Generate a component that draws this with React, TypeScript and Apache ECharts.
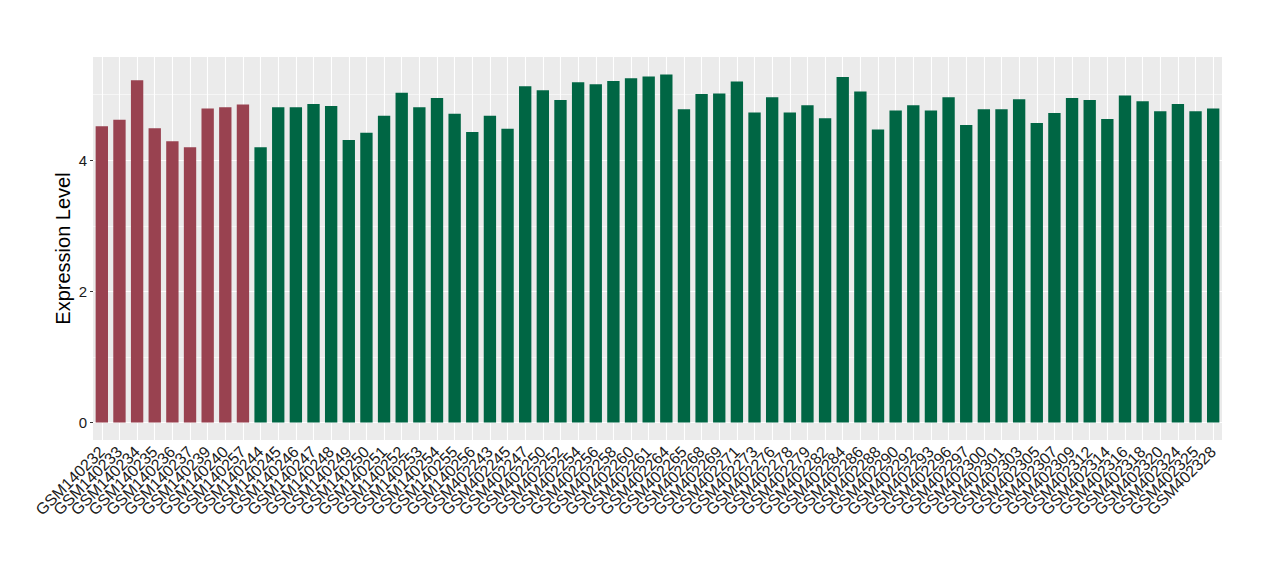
import React, { useEffect, useRef } from "react";
import * as echarts from "echarts";

const categories = [
  "GSM140232", "GSM140233", "GSM140234", "GSM140235", "GSM140236", "GSM140237", "GSM140239", "GSM140240", "GSM140257",
  "GSM140244", "GSM140245", "GSM140246", "GSM140247", "GSM140248", "GSM140249", "GSM140250", "GSM140251", "GSM140252",
  "GSM140253", "GSM140254", "GSM140255", "GSM140256",
  "GSM402243", "GSM402245", "GSM402247", "GSM402250", "GSM402252", "GSM402254", "GSM402256", "GSM402258", "GSM402260",
  "GSM402261", "GSM402264", "GSM402265", "GSM402268", "GSM402269", "GSM402271", "GSM402273", "GSM402276", "GSM402278",
  "GSM402279", "GSM402282", "GSM402284", "GSM402286", "GSM402288", "GSM402290", "GSM402292", "GSM402293", "GSM402296",
  "GSM402297", "GSM402300", "GSM402301", "GSM402303", "GSM402305", "GSM402307", "GSM402309", "GSM402312", "GSM402314",
  "GSM402316", "GSM402318", "GSM402320", "GSM402324", "GSM402325", "GSM402328",
];

const values = [
  4.52, 4.62, 5.22, 4.49, 4.29, 4.20, 4.79, 4.81, 4.85,
  4.20, 4.81, 4.81, 4.86, 4.83, 4.31, 4.42, 4.68, 5.03,
  4.81, 4.95, 4.71, 4.43,
  4.68, 4.48, 5.13, 5.07, 4.92, 5.19, 5.16, 5.21, 5.25,
  5.28, 5.31, 4.78, 5.01, 5.02, 5.20, 4.73, 4.96, 4.73,
  4.84, 4.64, 5.27, 5.05, 4.47, 4.76, 4.84, 4.76, 4.96,
  4.54, 4.78, 4.78, 4.93, 4.57, 4.72, 4.95, 4.92, 4.63,
  4.99, 4.90, 4.75, 4.86, 4.75, 4.79,
];

// first group (red) size, remainder green
const groupSizes = [9, 55];
const groupColors = ["#994250", "#006644"];

const yTicks = [0, 2, 4];
const yMajorGrid = [0, 2, 4];
const yMinorGrid = [1, 3, 5];

export default function App() {
  const ref = useRef<HTMLDivElement>(null);

  useEffect(() => {
    if (!ref.current) return;
    const chart = echarts.init(ref.current, null, { renderer: "svg" });
    const maxV = Math.max(...values);
    const pad = maxV * 0.05;
    const font = "'Liberation Sans', Arial, Helvetica, sans-serif";

    const gridLines: any[] = [];
    yMajorGrid.forEach((v) =>
      gridLines.push({ yAxis: v, lineStyle: { color: "#ffffff", width: 1.1, type: "solid" } })
    );
    yMinorGrid.forEach((v) =>
      gridLines.push({ yAxis: v, lineStyle: { color: "#ffffff", width: 0.55, type: "solid" } })
    );
    categories.forEach((c) =>
      gridLines.push({ xAxis: c, lineStyle: { color: "#ffffff", width: 1.1, type: "solid" } })
    );

    chart.setOption({
      animation: false,
      grid: {
        left: 93,
        right: 58,
        top: 57,
        bottom: 140,
        show: true,
        backgroundColor: "#EBEBEB",
        borderWidth: 0,
        containLabel: false,
      },
      xAxis: {
        type: "category",
        data: categories,
        boundaryGap: true,
        axisLine: { show: false },
        axisTick: { show: true, alignWithLabel: true, length: 3, lineStyle: { color: "#333333", width: 1 } },
        axisLabel: {
          rotate: 45,
          interval: 0,
          margin: 9,
          padding: [9, 0, 0, 0],
          fontSize: 16,
          color: "#1a1a1a",
          fontFamily: font,
        },
        splitLine: { show: false },
      },
      yAxis: {
        type: "value",
        min: -pad,
        max: maxV + pad,
        name: "Expression Level",
        nameLocation: "middle",
        nameGap: 20,
        nameMoveOverlap: false,
        nameTextStyle: { fontSize: 20, color: "#000000", fontFamily: font },
        axisLine: { show: false },
        axisTick: { show: true, length: 3, customValues: yTicks, lineStyle: { color: "#333333", width: 1 } },
        axisLabel: {
          customValues: yTicks,
          margin: 6,
          fontSize: 15,
          color: "#1a1a1a",
          fontFamily: font,
        },
        splitLine: { show: false },
      },
      series: [
        {
          type: "bar",
          data: values.map((v, i) => ({
            value: v,
            itemStyle: { color: i < groupSizes[0] ? groupColors[0] : groupColors[1] },
          })),
          barCategoryGap: "30%",
          z: 2,
          silent: true,
          markLine: {
            z: 1,
            silent: true,
            symbol: ["none", "none"],
            label: { show: false },
            emphasis: { disabled: true },
            data: gridLines,
          },
        },
      ],
    });
    return () => chart.dispose();
  }, []);

  return (
    <div
      ref={ref}
      style={{ position: "fixed", left: 0, top: 0, width: 1280, height: 580, background: "#ffffff" }}
    />
  );
}
